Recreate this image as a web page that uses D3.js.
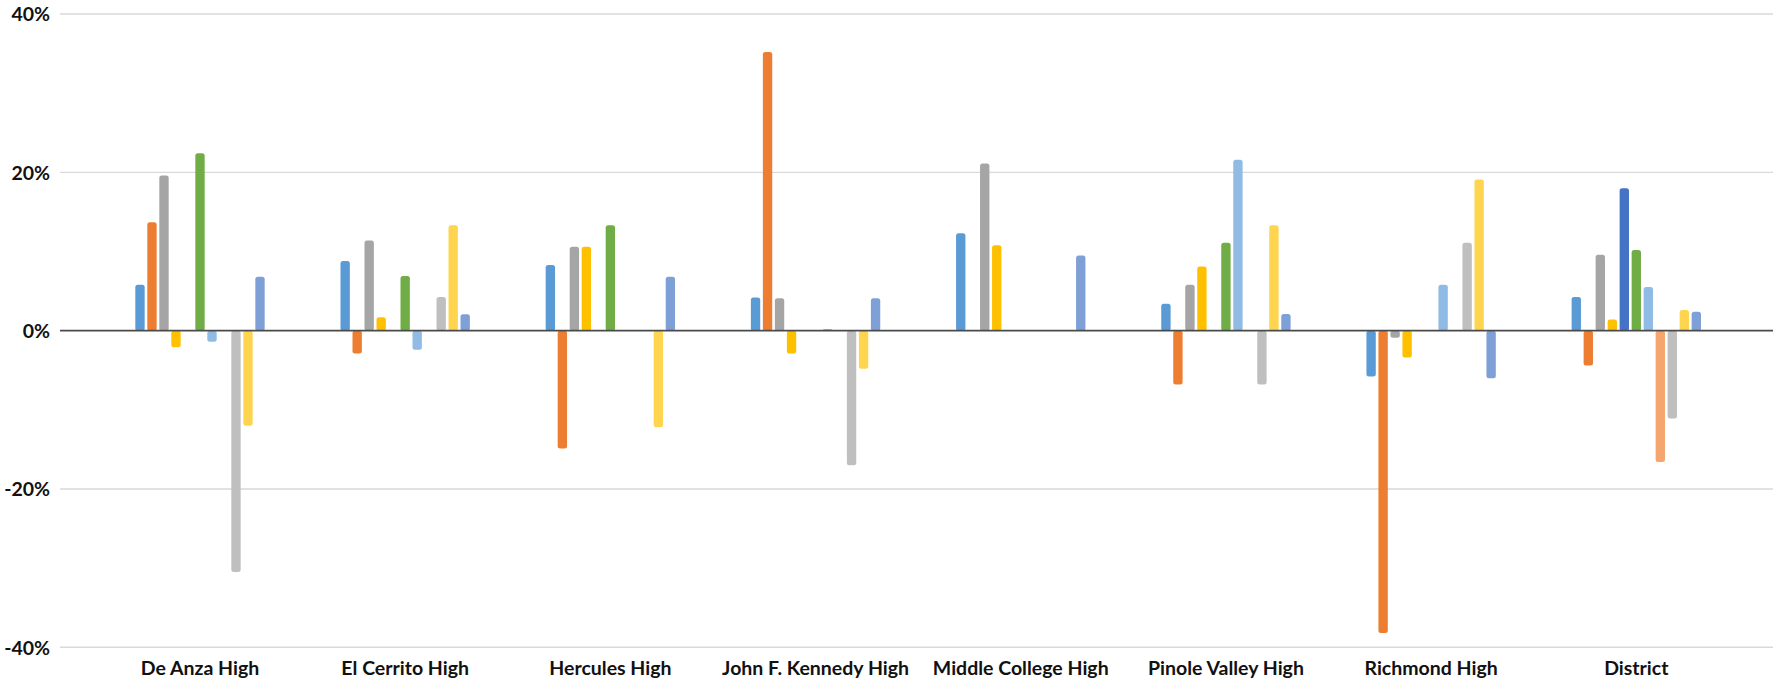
<!DOCTYPE html>
<html>
<head>
<meta charset="utf-8">
<script src="https://cdn.jsdelivr.net/npm/d3@7"></script>
<style>
  html, body { margin: 0; padding: 0; background: #ffffff; }
  svg { display: block; }
  text { font-family: Lato, "Open Sans", sans-serif; font-weight: 700; fill: #111111; }
</style>
</head>
<body>
<svg id="chart" width="1791" height="683"></svg>
<script>
// ---- data (percent change) ----
const categories = ["De Anza High", "El Cerrito High", "Hercules High", "John F. Kennedy High",
                    "Middle College High", "Pinole Valley High", "Richmond High", "District"];
const seriesNames = ["Series 1", "Series 2", "Series 3", "Series 4", "Series 5", "Series 6",
                     "Series 7", "Series 8", "Series 9", "Series 10", "Series 11"];
const series1  = [5.8, 8.8, 8.3, 4.2, 12.3, 3.4, -5.8, 4.25];
const series2  = [13.7, -2.9, -14.9, 35.2, null, -6.8, -38.2, -4.4];
const series3  = [19.6, 11.4, 10.6, 4.1, 21.1, 5.8, -0.9, 9.6];
const series4  = [-2.1, 1.7, 10.6, -2.9, 10.8, 8.1, -3.4, 1.4];
const series5  = [null, null, null, null, null, null, null, 18.0];
const series6  = [22.4, 6.9, 13.3, null, null, 11.1, null, 10.2];
const series7  = [-1.4, -2.4, null, 0.2, null, 21.6, 5.8, 5.5];
const series8  = [null, null, null, null, null, null, null, -16.6];
const series9  = [-30.5, 4.25, null, -17.0, null, -6.8, 11.1, -11.1];
const series10 = [-12.0, 13.3, -12.2, -4.8, null, 13.3, 19.1, 2.6];
const series11 = [6.8, 2.06, 6.8, 4.1, 9.5, 2.1, -6.0, 2.4];
const yTicks = [-40, -20, 0, 20, 40];

const seriesValues = [series1, series2, series3, series4, series5, series6,
                      series7, series8, series9, series10, series11];
const colors = ["#5B9BD5", "#ED7D31", "#A5A5A5", "#FFC000", "#4472C4", "#70AD47",
                "#8FBBE4", "#F4A66E", "#BFBFBF", "#FFD44F", "#7F9FD7"];

// ---- layout ----
const svg = d3.select("#chart");
const gridX0 = 60, gridX1 = 1773;

const y = d3.scaleLinear().domain([-40, 40]).range([647.3, 14]);

const x0 = d3.scaleBand()
  .domain(categories)
  .range([97.4, 1738.9])
  .paddingInner(0.3566)
  .paddingOuter(0.1783);

const x1 = d3.scaleBand()
  .domain(seriesNames)
  .range([0, x0.bandwidth()])
  .paddingInner(0.22)
  .paddingOuter(0.11);

// gridlines
svg.append("g").selectAll("line")
  .data(yTicks.filter(d => d !== 0))
  .join("line")
  .attr("x1", gridX0).attr("x2", gridX1)
  .attr("y1", d => y(d)).attr("y2", d => y(d))
  .attr("stroke", "#D9D9D9").attr("stroke-width", 1.4);

// y axis labels
const yAxis = d3.axisLeft(y).tickValues(yTicks).tickFormat(d => d + "%").tickSize(0).tickPadding(0);
const gy = svg.append("g").attr("transform", `translate(50,0)`).call(yAxis);
gy.select(".domain").remove();
gy.selectAll("text")
  .attr("font-size", 19.5)
  .attr("font-family", "Lato, 'Open Sans', sans-serif")
  .attr("font-weight", 700)
  .attr("fill", "#111111")
  .attr("dy", "0.35em");

// bars
const rows = [];
categories.forEach((c, ci) => {
  seriesNames.forEach((s, si) => {
    const v = seriesValues[si][ci];
    if (v !== null && v !== undefined) rows.push({cat: c, ser: s, si, v});
  });
});

svg.append("g").selectAll("rect")
  .data(rows)
  .join("rect")
  .attr("x", d => x0(d.cat) + x1(d.ser))
  .attr("width", x1.bandwidth())
  .attr("y", d => Math.min(y(d.v), y(0)))
  .attr("height", d => Math.max(1, Math.abs(y(d.v) - y(0))))
  .attr("rx", 2.5).attr("ry", 2.5)
  .attr("fill", d => colors[d.si]);

// zero line
svg.append("line")
  .attr("x1", gridX0).attr("x2", gridX1)
  .attr("y1", y(0)).attr("y2", y(0))
  .attr("stroke", "#4a4a4a").attr("stroke-width", 1.6);

// x axis labels
const xAxis = d3.axisBottom(x0).tickSize(0).tickPadding(0);
const gx = svg.append("g").attr("transform", `translate(0,675)`).call(xAxis);
gx.select(".domain").remove();
gx.selectAll("text")
  .attr("y", 0).attr("dy", 0)
  .attr("font-size", 19.5)
  .attr("font-family", "Lato, 'Open Sans', sans-serif")
  .attr("font-weight", 700)
  .attr("fill", "#111111");
</script>
</body>
</html>
